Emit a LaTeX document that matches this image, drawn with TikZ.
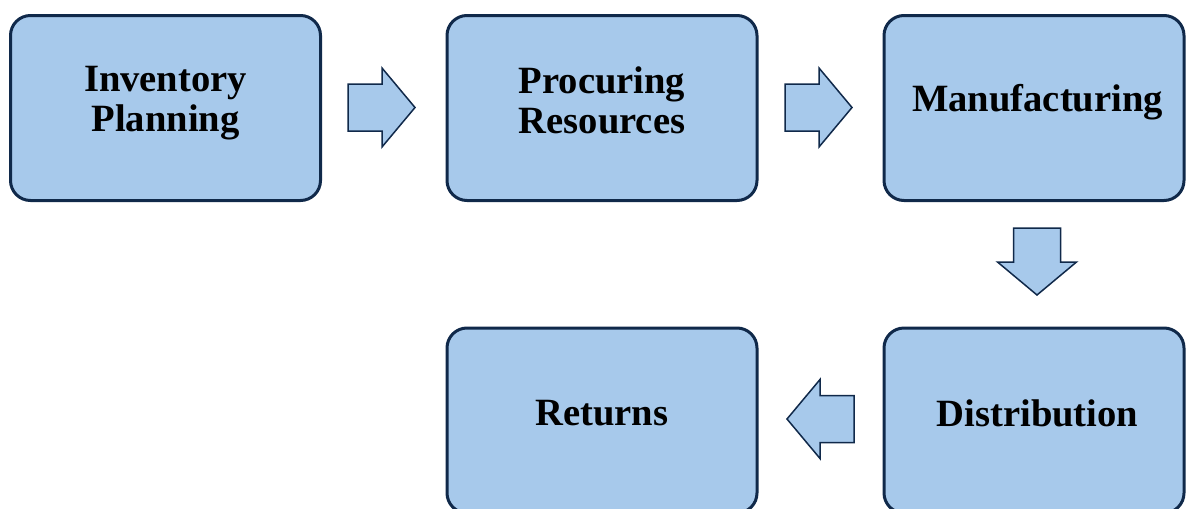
\documentclass[tikz,border=0pt]{standalone}
\usepackage{fontspec}
\setmainfont{Liberation Serif}
\begin{document}
\begin{tikzpicture}[x=1pt,y=-1pt,
  stagebox/.style={draw=navyline, line width=3pt, fill=stagefill, rounded corners=20pt,
    minimum width=310pt, minimum height=185pt, inner sep=0pt},
  stagetext/.style={align=center, font=\fontsize{38.6}{40}\selectfont\bfseries, inner sep=0pt},
  blockarrow/.pic={
    \draw[draw=navyline, line width=1.5pt, fill=stagefill, line join=miter]
      (0,-23.5) -- (34,-23.5) -- (34,-39.5) -- (67,0) -- (34,39.5) -- (34,23.5) -- (0,23.5) -- cycle;
  }]
  \definecolor{navyline}{HTML}{10294A}
  \definecolor{stagefill}{HTML}{A7C9EB}
  \useasboundingbox (0,0) rectangle (1187,509);

  % stage boxes
  \node[stagebox] (inv)  at (165.5,108) {};
  \node[stagebox] (proc) at (602,108) {};
  \node[stagebox, minimum width=300pt] (manu) at (1034,108) {};
  \node[stagebox, minimum width=300pt] (dist) at (1034,420.5) {};
  \node[stagebox] (ret)  at (602,420.5) {};

  % stage labels
  \node[stagetext] (invt)  at (165.5,103.5) {Inventory\\Planning};
  \node[stagetext] (proct) at (602,100.5) {Procuring\\Resources};
  \node[stagetext] (manut) at (1037.5,102) {Manufacturing};
  \node[stagetext] (distt) at (1037.5,413) {Distribution};
  \node[stagetext] (rett)  at (602,413) {Returns};

  % block arrows between stages
  \pic at (348,107.5) {blockarrow};
  \pic at (785,107.5) {blockarrow};
  \pic[rotate=-90] at (1037,228) {blockarrow};
  \pic[rotate=180] at (854,419) {blockarrow};
\end{tikzpicture}
\end{document}
